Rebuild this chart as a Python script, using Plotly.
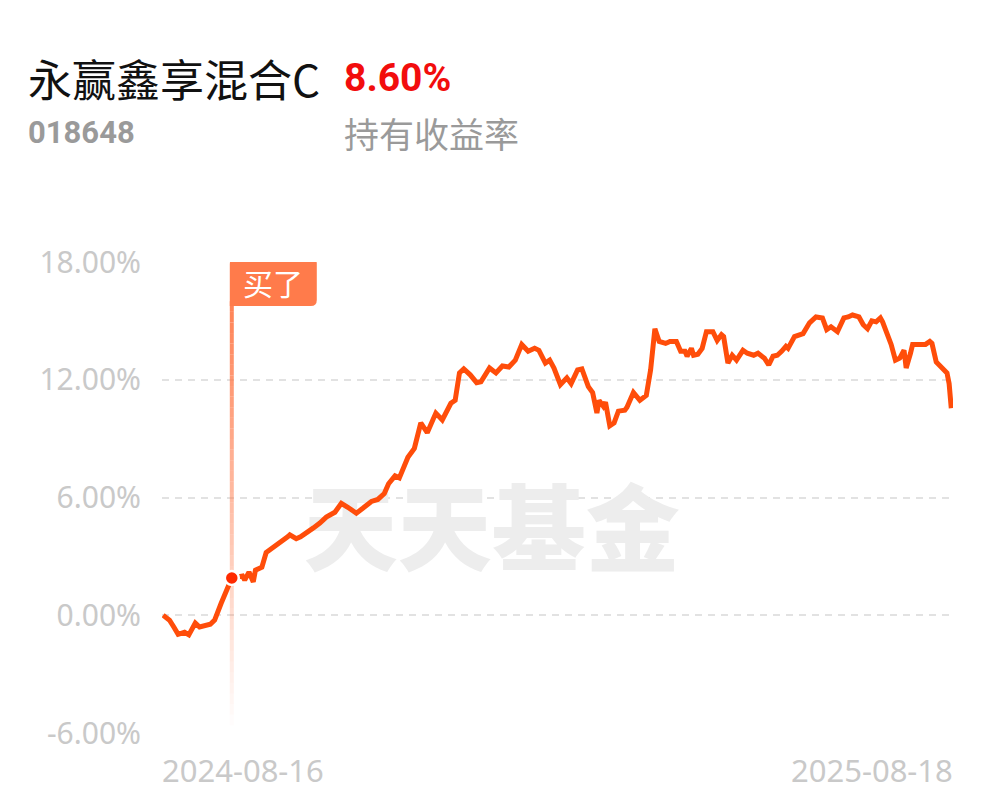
import pandas as pd
import plotly.graph_objects as go

# ---------------- data ----------------
fund_name = "永赢鑫享混合C"
fund_code = "018648"
holding_return = "8.60%"
holding_label = "持有收益率"
start_date = "2024-08-16"
end_date = "2025-08-18"

day_offsets = [
    0, 3, 5, 7, 10, 12, 15, 17, 22, 24, 27, 29, 32, 37, 38, 40, 42, 43, 46, 48,
    52, 54, 55, 58, 59, 62, 64, 67, 70, 73, 76, 80, 83, 86, 90, 93, 97, 100, 103, 105,
    108, 110, 114, 117, 120, 123, 127, 130, 134, 136, 138, 140, 143, 146, 148, 152, 155, 158, 161, 164,
    167, 170, 173, 175, 178, 180, 182, 185, 188, 190, 193, 195, 198, 200, 202, 203, 205, 206, 208, 210,
    212, 215, 216, 219, 222, 225, 227, 229, 231, 234, 236, 239, 241, 243, 244, 246, 247, 249, 251, 253,
    256, 258, 260, 261, 263, 265, 267, 270, 272, 275, 277, 280, 282, 284, 286, 288, 290, 291, 294, 298,
    301, 304, 307, 309, 311, 314, 317, 319, 321, 324, 326, 328, 330, 332, 334, 335, 338, 339, 341, 343,
    345, 346, 348, 349, 352, 355, 357, 358, 360, 362, 365, 366, 367,
]
returns_pct = [
    0.0, -0.25, -0.6, -0.97, -0.87, -1.0, -0.4, -0.6, -0.46, -0.25, 0.6, 1.1, 1.9, 2.0, 1.8, 2.2, 1.7, 2.3, 2.45, 3.2,
    3.5, 3.65, 3.7, 4.0, 4.1, 3.9, 4.0, 4.2, 4.45, 4.7, 5.0, 5.25, 5.7, 5.5, 5.2, 5.45, 5.8, 5.9, 6.2, 6.7,
    7.1, 7.0, 8.05, 8.5, 9.8, 9.3, 10.3, 9.95, 10.8, 10.95, 12.35, 12.55, 12.25, 11.85, 11.9, 12.6, 12.35, 12.7, 12.65, 13.0,
    13.8, 13.45, 13.6, 13.5, 12.85, 13.0, 12.6, 11.75, 12.1, 11.8, 12.5, 12.55, 11.65, 11.35, 10.3, 10.95, 10.65, 10.85, 9.65, 9.8,
    10.4, 10.45, 10.6, 11.35, 10.95, 11.2, 12.5, 14.6, 13.95, 13.85, 13.95, 13.95, 13.45, 13.45, 13.2, 13.6, 13.25, 13.3, 13.6, 14.45,
    14.45, 14.0, 14.3, 14.2, 12.85, 13.25, 13.0, 13.5, 13.35, 13.25, 13.35, 13.1, 12.75, 13.2, 13.25, 13.45, 13.7, 13.6, 14.2, 14.35,
    14.9, 15.2, 15.15, 14.55, 14.7, 14.45, 15.15, 15.2, 15.3, 15.2, 14.8, 14.6, 15.0, 14.95, 15.15, 14.95, 14.1, 13.8, 13.0, 13.1,
    13.5, 12.6, 13.35, 13.8, 13.8, 13.8, 13.95, 13.85, 12.9, 12.65, 12.35, 11.8, 10.55,
]
buy_index = 12
buy_label = "买了"
watermark_text = "天天基金"

y_ticks = [-6, 0, 6, 12, 18]
y_tick_labels = ["-6.00%", "0.00%", "6.00%", "12.00%", "18.00%"]

# ---------------- styles ----------------
LINE_COLOR = "#ff4d0a"
BUY_COLOR = "#ff7b4b"
GRID_COLOR = "#e2e2e2"
AXIS_TEXT = "#c9c9c9"
CJK = "Noto Sans CJK SC"

start = pd.Timestamp(start_date)
dates = [start + pd.Timedelta(days=d) for d in day_offsets]
buy_date = dates[buy_index]
buy_value = returns_pct[buy_index]

fig = go.Figure()

# watermark (text trace so it sits below the line)
fig.add_trace(go.Scatter(
    x=[start + pd.Timedelta(days=153)], y=[3.8], mode="text",
    text=[watermark_text], textposition="middle center",
    textfont=dict(family=CJK, size=94, color="#ededed", weight=900),
    hoverinfo="skip", showlegend=False,
))

fig.add_trace(go.Scatter(
    x=dates, y=returns_pct, mode="lines",
    line=dict(color=LINE_COLOR, width=5, shape="linear"),
    hoverinfo="skip", showlegend=False,
))

fig.add_trace(go.Scatter(
    x=[buy_date], y=[buy_value], mode="markers",
    marker=dict(size=14, color="#ff2a00", line=dict(color="white", width=2.5)),
    hoverinfo="skip", showlegend=False, cliponaxis=False,
))

# gradient vertical buy line
shapes = []
top_v, bot_v = 16.0, -5.6
n = 40
for i in range(n):
    y0 = top_v - (top_v - bot_v) * i / n
    y1 = top_v - (top_v - bot_v) * (i + 1) / n
    op = max(0.0, 1.0 - (i + 0.5) / n) * 0.95
    shapes.append(dict(type="line", xref="x", yref="y", x0=buy_date, x1=buy_date,
                       y0=y0, y1=y1, line=dict(color=BUY_COLOR, width=4),
                       opacity=op, layer="between"))

# label box with rounded corners (pixel path anchored at buy date / 18%)
r = 6
x0, x1, yt, yb = -2, 85, 4, -44
path = (f"M {x0} {yb} L {x0} {yt - r} Q {x0} {yt} {x0 + r} {yt} "
        f"L {x1 - r} {yt} Q {x1} {yt} {x1} {yt - r} "
        f"L {x1} {yb + r} Q {x1} {yb} {x1 - r} {yb} Z")
shapes.append(dict(type="path", xref="x", yref="y", xsizemode="pixel", ysizemode="pixel",
                   xanchor=buy_date, yanchor=18, path=path,
                   fillcolor=BUY_COLOR, line=dict(width=0), layer="above"))

annotations = [
    dict(x=buy_date, y=18, xref="x", yref="y", text=buy_label, showarrow=False,
         xanchor="center", yanchor="middle", xshift=41, yshift=-20,
         font=dict(family=CJK, size=30, color="white")),
    dict(x=0, y=1, xref="paper", yref="paper", text=fund_name, showarrow=False,
         xanchor="left", yanchor="middle", xshift=-136, yshift=184,
         font=dict(family=CJK, size=44, color="#111111")),
    dict(x=0, y=1, xref="paper", yref="paper", text=f"<b>{holding_return}</b>", showarrow=False,
         xanchor="left", yanchor="middle", xshift=180, yshift=184,
         font=dict(family="Roboto", size=39, color="#f20d0d")),
    dict(x=0, y=1, xref="paper", yref="paper", text=f"<b>{fund_code}</b>", showarrow=False,
         xanchor="left", yanchor="middle", xshift=-136, yshift=130,
         font=dict(family="Roboto", size=31, color="#9a9a9a")),
    dict(x=0, y=1, xref="paper", yref="paper", text=holding_label, showarrow=False,
         xanchor="left", yanchor="middle", xshift=180, yshift=130,
         font=dict(family=CJK, size=35, color="#9a9a9a")),
    dict(x=0, y=0, xref="paper", yref="paper", text=start_date, showarrow=False,
         xanchor="left", yanchor="middle", xshift=-2, yshift=-37,
         font=dict(family="Noto Sans", size=31, color=AXIS_TEXT)),
    dict(x=1, y=0, xref="paper", yref="paper", text=end_date, showarrow=False,
         xanchor="right", yanchor="middle", xshift=2, yshift=-37,
         font=dict(family="Noto Sans", size=31, color=AXIS_TEXT)),
]

fig.update_layout(
    width=997, height=802,
    margin=dict(l=154, r=52, t=254, b=77),
    paper_bgcolor="white", plot_bgcolor="white",
    showlegend=False,
    shapes=shapes, annotations=annotations,
    xaxis=dict(type="date", range=[start - pd.Timedelta(days=0.5), dates[-1] + pd.Timedelta(days=0.8)],
               showgrid=False, showticklabels=False, zeroline=False, showline=False, ticks=""),
    yaxis=dict(range=[-6, 18], tickvals=y_ticks, ticktext=y_tick_labels,
               showgrid=True, gridcolor=GRID_COLOR, gridwidth=1.5, griddash="7px,6px",
               zeroline=False, showline=False, ticks="", ticklabelstandoff=20,
               tickfont=dict(family="Noto Sans", size=30, color=AXIS_TEXT)),
)

fig.write_html("out.html")
